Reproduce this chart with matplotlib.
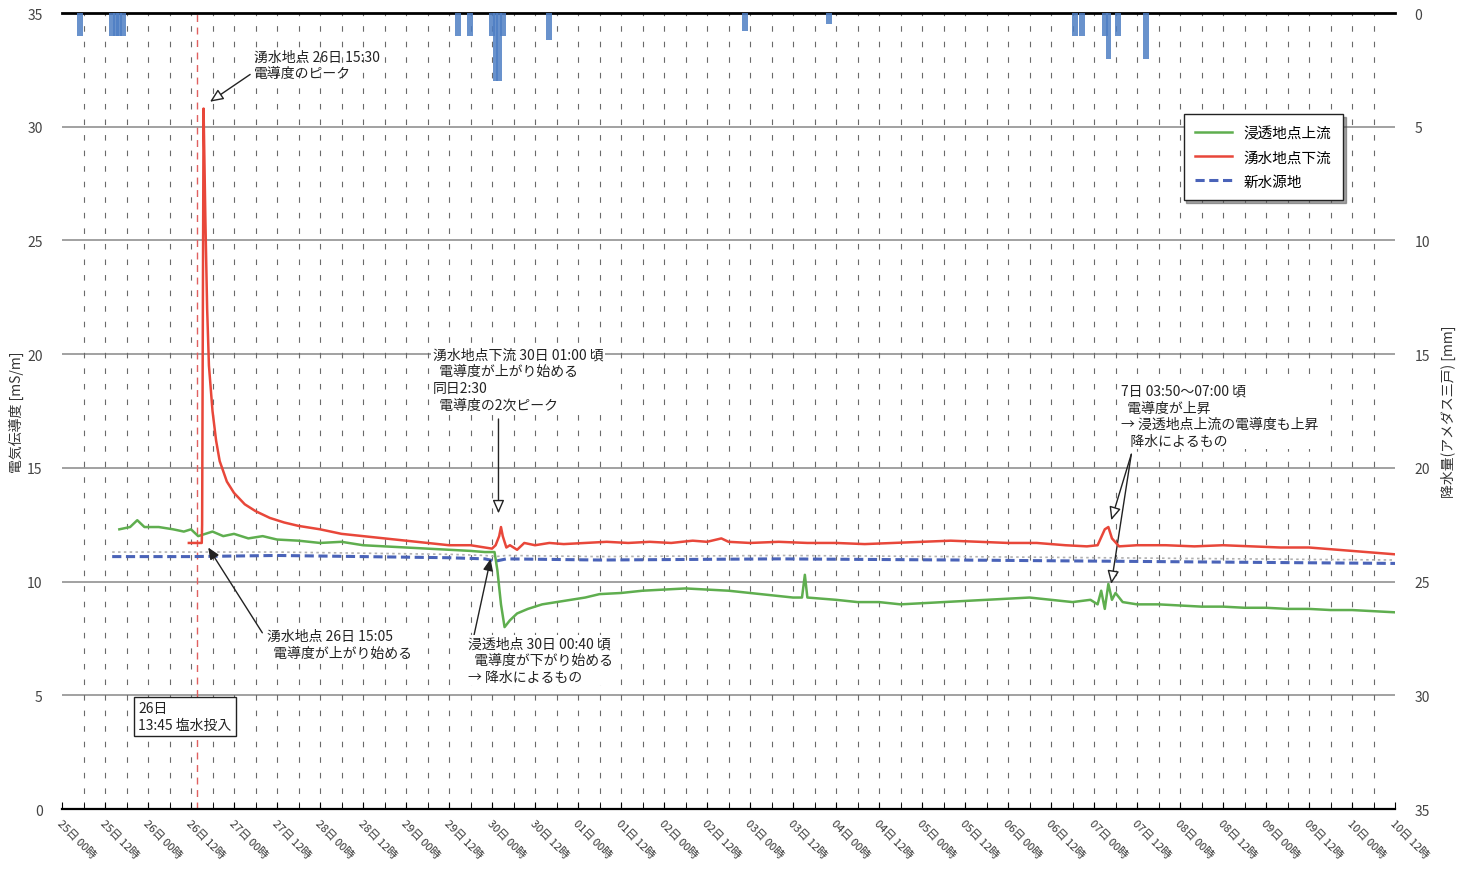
import matplotlib
matplotlib.use("Agg")
import matplotlib.pyplot as plt
from matplotlib.ticker import MultipleLocator
from matplotlib.lines import Line2D

plt.rcParams["font.family"] = ["Noto Sans CJK JP", "DejaVu Sans"]

# ---------------------------------------------------------------------------
# data (x = hours since 25日 00時)
# ---------------------------------------------------------------------------
tick_labels = ["25日 00時", "25日 12時", "26日 00時", "26日 12時", "27日 00時", "27日 12時",
               "28日 00時", "28日 12時", "29日 00時", "29日 12時", "30日 00時", "30日 12時",
               "01日 00時", "01日 12時", "02日 00時", "02日 12時", "03日 00時", "03日 12時",
               "04日 00時", "04日 12時", "05日 00時", "05日 12時", "06日 00時", "06日 12時",
               "07日 00時", "07日 12時", "08日 00時", "08日 12時", "09日 00時", "09日 12時",
               "10日 00時", "10日 12時"]

up_h = [16, 19, 21, 23, 27, 31, 34, 36, 38, 40, 42, 45, 48, 52, 56, 60, 66, 72, 78, 84,
        90, 96, 102, 108, 114, 118, 120.7, 121.5, 122.5, 123.5, 125, 127, 130, 134, 138,
        142, 146, 150, 156, 162, 168, 174, 180, 186, 192, 198, 204, 206.5, 207.3, 208,
        216, 222, 228, 234, 240, 246, 252, 258, 264, 270, 276, 282, 287, 289, 290, 291,
        292, 293, 294, 296, 300, 306, 312, 318, 324, 330, 336, 342, 348, 354, 360, 366, 372]
up_v = [12.3, 12.4, 12.7, 12.4, 12.4, 12.3, 12.2, 12.3, 12.0, 12.1, 12.2, 12.0, 12.1, 11.9,
        12.0, 11.85, 11.8, 11.7, 11.75, 11.6, 11.55, 11.5, 11.45, 11.4, 11.35, 11.3, 11.3,
        10.5, 9.0, 8.0, 8.3, 8.6, 8.8, 9.0, 9.1, 9.2, 9.3, 9.45, 9.5, 9.6, 9.65, 9.7, 9.65,
        9.6, 9.5, 9.4, 9.3, 9.3, 10.3, 9.3, 9.2, 9.1, 9.1, 9.0, 9.05, 9.1, 9.15, 9.2, 9.25,
        9.3, 9.2, 9.1, 9.2, 9.0, 9.6, 8.8, 9.9, 9.2, 9.5, 9.1, 9.0, 9.0, 8.95, 8.9, 8.9,
        8.85, 8.85, 8.8, 8.8, 8.75, 8.75, 8.7, 8.65]

dn_h = [35.4, 38, 39.0, 39.1, 39.5, 40.0, 40.5, 41, 42, 43, 44, 46, 48, 51, 54, 58, 62, 66,
        72, 78, 84, 90, 96, 102, 108, 114, 118, 120, 121, 122, 122.5, 123, 124, 125, 127,
        129, 132, 136, 140, 146, 152, 158, 164, 170, 176, 180, 184, 186, 192, 200, 208,
        216, 224, 232, 240, 248, 256, 264, 272, 280, 286, 289, 291, 292, 293, 295, 300,
        308, 316, 324, 332, 340, 348, 356, 364, 372]
dn_v = [11.7, 11.7, 11.7, 12.5, 30.8, 26.0, 22.0, 19.5, 17.5, 16.2, 15.3, 14.4, 13.9, 13.4,
        13.1, 12.8, 12.6, 12.45, 12.3, 12.1, 12.0, 11.9, 11.8, 11.7, 11.6, 11.6, 11.5, 11.45,
        11.6, 12.0, 12.4, 12.0, 11.5, 11.6, 11.4, 11.7, 11.6, 11.7, 11.65, 11.7, 11.75, 11.7,
        11.75, 11.7, 11.8, 11.75, 11.9, 11.75, 11.7, 11.75, 11.7, 11.7, 11.65, 11.7, 11.75,
        11.8, 11.75, 11.7, 11.7, 11.6, 11.55, 11.6, 12.3, 12.4, 11.9, 11.55, 11.6, 11.6,
        11.55, 11.6, 11.55, 11.5, 11.5, 11.4, 11.3, 11.2]

src_h = [14, 36, 60, 84, 108, 118, 121, 124, 150, 200, 250, 290, 330, 372]
src_v = [11.1, 11.1, 11.15, 11.1, 11.05, 11.0, 10.9, 11.0, 10.95, 11.0, 10.95, 10.9, 10.85, 10.8]
grey_v = [11.3, 11.3, 11.3, 11.25, 11.2, 11.15, 11.1, 11.15, 11.1, 11.15, 11.1, 11.05, 11.0, 10.95]

rain_h = [5, 14, 15, 16, 17, 110.5, 113.8, 120, 121, 122, 123, 136, 190.6, 214,
          282.6, 284.6, 291, 292, 294.6, 302.4]
rain_mm = [1.0, 1.0, 1.0, 1.0, 1.0, 1.0, 1.0, 1.0, 3.0, 3.0, 1.0, 1.2, 0.8, 0.5,
           1.0, 1.0, 1.0, 2.0, 1.0, 2.0]

inject_h = 37.75   # 26日 13:45

# ---------------------------------------------------------------------------
# figure
# ---------------------------------------------------------------------------
fig = plt.figure(figsize=(14.66, 8.78), dpi=100)
ax = fig.add_axes([0.0423, 0.0774, 0.9093, 0.9066])

ax.set_xlim(0, 372)
ax.set_ylim(0, 35)

for v in range(5, 35, 5):
    ax.axhline(v, color="#9a9a9a", lw=1.3, zorder=1)
for h in range(6, 372, 6):
    ax.axvline(h, color="#6a6a6a", lw=0.8, ls=(0, (5, 9)), zorder=1)

ax.axvline(inject_h, color="#e06060", lw=1.0, ls=(0, (5, 4)), zorder=2)

ax.plot(src_h, grey_v, color="#b0b0b0", lw=1.2, ls=(0, (1.5, 2)), zorder=3)
ax.plot(src_h, src_v, color="#4a63b8", lw=2.2, ls=(0, (3, 1.5)), zorder=3)
ax.plot(up_h, up_v, color="#5fae4f", lw=1.8, zorder=4)
ax.plot(dn_h, dn_v, color="#e8473a", lw=1.8, zorder=5)

ax.set_xticks(range(0, 373, 12))
ax.set_xticklabels(tick_labels, rotation=-45, ha="left", va="top",
                   rotation_mode="anchor", fontsize=8, color="#333333")
ax.xaxis.set_minor_locator(MultipleLocator(6))
ax.tick_params(axis="x", which="both", direction="in", length=5, pad=6)
ax.set_yticks(range(0, 36, 5))
ax.tick_params(axis="y", length=0, labelsize=10, labelcolor="#444444", pad=14)
ax.set_ylabel("電気伝導度 [mS/m]", fontsize=10, color="#333333", labelpad=2)

for side in ["left", "right"]:
    ax.spines[side].set_visible(False)
ax.spines["top"].set_linewidth(2.0)
ax.spines["bottom"].set_linewidth(1.6)

# rainfall on the inverted right axis
ax2 = ax.twinx()
ax2.set_ylim(35, 0)
ax2.bar(rain_h, rain_mm, width=1.6, color="#4f7fc4", alpha=0.85, zorder=2)
ax2.set_yticks(range(0, 36, 5))
ax2.tick_params(axis="y", length=0, labelsize=10, labelcolor="#444444", pad=14)
ax2.set_ylabel("降水量(アメダス三戸) [mm]", fontsize=10, color="#333333",
               rotation=90, labelpad=8)
for side in ["left", "right", "top", "bottom"]:
    ax2.spines[side].set_visible(False)

# legend
handles = [Line2D([], [], color="#5fae4f", lw=1.8),
           Line2D([], [], color="#e8473a", lw=1.8),
           Line2D([], [], color="#4a63b8", lw=2.2, ls=(0, (3, 1.5)))]
leg = ax.legend(handles, ["浸透地点上流", "湧水地点下流", "新水源地"],
                loc="upper left", bbox_to_anchor=(0.836, 0.882), fontsize=10.5,
                frameon=True, fancybox=False, shadow=True, handlelength=2.5,
                borderpad=0.8, labelspacing=0.7)
leg.get_frame().set_edgecolor("#222222")
leg.get_frame().set_linewidth(1.0)

# annotations
txt = dict(fontsize=10, color="#222222", va="top", ha="left", linespacing=1.25, zorder=6)
open_arrow = dict(arrowstyle="-|>,head_width=0.35,head_length=0.8", color="#222222",
                  lw=1.0, fc="white", shrinkA=0, shrinkB=0)
fill_arrow = dict(arrowstyle="-|>,head_width=0.3,head_length=0.7", color="#222222",
                  lw=1.0, shrinkA=0, shrinkB=0)

ax.text(53.5, 33.4, "湧水地点 26日 15:30\n電導度のピーク", **txt)
ax.annotate("", xy=(41.3, 31.1), xytext=(52.5, 32.3), arrowprops=open_arrow)

ax.text(103.4, 20.3, "湧水地点下流 30日 01:00 頃\n  電導度が上がり始める\n同日2:30\n  電導度の2次ピーク",
        bbox=dict(fc="white", ec="none", pad=1), **txt)
ax.annotate("", xy=(121.8, 13.0), xytext=(121.8, 17.15), arrowprops=open_arrow)

ax.text(295.6, 18.7, "7日 03:50～07:00 頃\n  電導度が上昇\n→ 浸透地点上流の電導度も上昇\n   降水によるもの",
        bbox=dict(fc="white", ec="none", pad=1), **txt)
ax.annotate("", xy=(292.8, 12.7), xytext=(298.4, 15.6), arrowprops=open_arrow)
ax.annotate("", xy=(292.8, 9.9), xytext=(298.4, 15.6), arrowprops=open_arrow)

ax.text(57.3, 7.9, "湧水地点 26日 15:05\n  電導度が上がり始める",
        bbox=dict(fc="white", ec="none", pad=1), **txt)
ax.annotate("", xy=(40.8, 11.5), xytext=(55.9, 7.75), arrowprops=fill_arrow)

ax.text(113.4, 7.6, "浸透地点 30日 00:40 頃\n  電導度が下がり始める\n→ 降水によるもの",
        bbox=dict(fc="white", ec="none", pad=1), **txt)
ax.annotate("", xy=(119.6, 11.0), xytext=(114.5, 7.3), arrowprops=fill_arrow)

ax.text(21.3, 4.75, "26日\n13:45 塩水投入",
        bbox=dict(fc="white", ec="#222222", lw=1.0, pad=3), **txt)

fig.savefig("out.png", dpi=100)
